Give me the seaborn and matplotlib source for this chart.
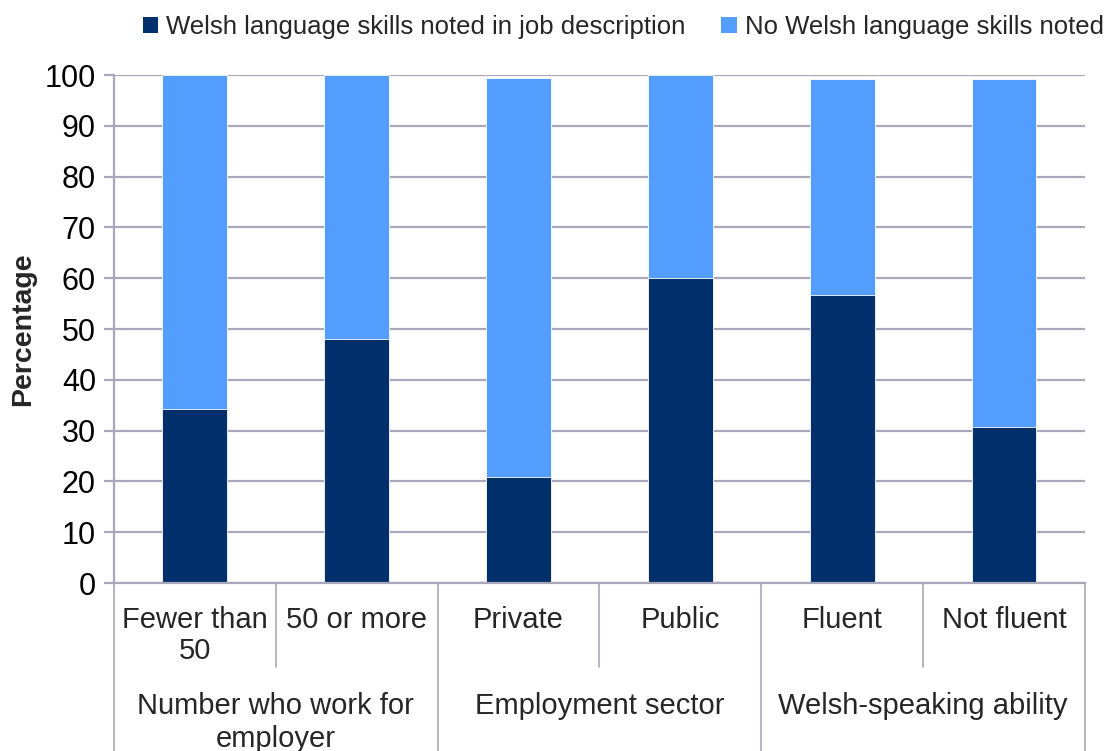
import matplotlib
matplotlib.use("Agg")
import matplotlib.pyplot as plt
import matplotlib.transforms as mtransforms
from matplotlib.patches import Patch
import seaborn as sns
import pandas as pd

# Data
categories = ["Fewer than\n50", "50 or more", "Private", "Public", "Fluent", "Not fluent"]
noted = [34.3, 48.1, 20.9, 60.1, 56.7, 30.8]
not_noted = [65.7, 51.9, 78.6, 39.9, 42.5, 68.4]
groups = ["Number who work for\nemployer", "Employment sector", "Welsh-speaking ability"]
series_names = ["Welsh language skills noted in job description", "No Welsh language skills noted"]

dark = "#002f6c"
light = "#539dfe"
line_col = "#a8a8ba"

sns.set_theme(style="white")
plt.rcParams["font.family"] = ["Liberation Sans", "DejaVu Sans"]

df = pd.DataFrame({"category": categories, "noted": noted, "not_noted": not_noted})
df["total"] = df["noted"] + df["not_noted"]

fig = plt.figure(figsize=(11.17, 7.51), dpi=100)
ax = fig.add_axes([0.102, 0.2237, 0.8693, 0.6764])

sns.barplot(data=df, x="category", y="total", color=light, width=0.4,
            saturation=1, ax=ax, edgecolor="white", linewidth=0.6)
sns.barplot(data=df, x="category", y="noted", color=dark, width=0.4,
            saturation=1, ax=ax, edgecolor="white", linewidth=0.6)

ax.set_ylim(0, 100)
ax.set_xlim(-0.5, len(categories) - 0.5)
ax.set_yticks(range(0, 101, 10))
ax.yaxis.grid(True, color=line_col, linewidth=1.6)
ax.set_axisbelow(True)
for side in ["top", "right"]:
    ax.spines[side].set_visible(False)
for side in ["left", "bottom"]:
    ax.spines[side].set_color(line_col)
    ax.spines[side].set_linewidth(1.6)
ax.tick_params(axis="y", which="both", left=True, length=7, width=1.6,
               color=line_col, labelsize=22, pad=6, labelcolor="black")
ax.set_xticks([])
ax.set_xlabel("")
ax.set_ylabel("Percentage", fontsize=20.5, fontweight="bold", labelpad=6)

# Hierarchical category axis below the plot
trans = mtransforms.blended_transform_factory(ax.transData, ax.transAxes)
for i, cat in enumerate(categories):
    ax.text(i, -0.045, cat, transform=trans, ha="center", va="top",
            fontsize=21, linespacing=1.15)
short_x = [0.5, 2.5, 4.5]
long_x = [-0.5, 1.5, 3.5, 5.5]
for x in short_x:
    ax.plot([x, x], [0, -0.165], transform=trans, color=line_col,
            linewidth=1.2, clip_on=False)
for x in long_x:
    ax.plot([x, x], [0, -0.35], transform=trans, color=line_col,
            linewidth=1.2, clip_on=False)
for j, g in enumerate(groups):
    ax.text(2 * j + 0.5, -0.214, g, transform=trans, ha="center", va="top",
            fontsize=21, linespacing=1.25)

handles = [Patch(facecolor=dark, edgecolor="none"), Patch(facecolor=light, edgecolor="none")]
fig.legend(handles, series_names, loc="center left", bbox_to_anchor=(0.128, 0.964),
           ncol=2, frameon=False, fontsize=18.5, handlelength=0.6, handleheight=0.6,
           handletextpad=0.3, columnspacing=1.4, borderaxespad=0, borderpad=0)

fig.savefig("out.png", dpi=100, facecolor="white")
